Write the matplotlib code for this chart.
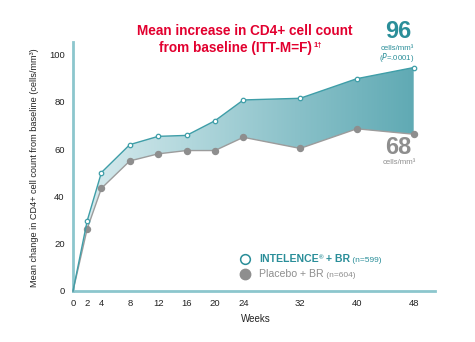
import numpy as np
import matplotlib.pyplot as plt
from matplotlib.colors import LinearSegmentedColormap

plt.rcParams['font.family'] = ['Liberation Sans', 'DejaVu Sans']

# data
weeks = [0, 2, 4, 8, 12, 16, 20, 24, 32, 40, 48]
intelence = [0, 29.7, 50.1, 61.9, 65.4, 65.8, 72.0, 80.8, 81.5, 89.8, 94.5]
placebo = [0, 26.3, 43.4, 55.0, 58.0, 59.4, 59.4, 65.0, 60.3, 68.6, 66.3]
x_ticks = [0, 2, 4, 8, 12, 16, 20, 24, 32, 40, 48]
y_ticks = [0, 20, 40, 60, 80, 100]

TEAL = '#2a8e99'
LINE_TEAL = '#3f9ea8'
GRAY = '#8e8e8e'
RED = '#e2002f'

W, H = 475, 342
fig = plt.figure(figsize=(W / 100, H / 100), dpi=100)
ax = fig.add_axes([73 / W, 1 - 291 / H, (435 - 73) / W, (291 - 42) / H])


def px(x, y):
    return x / W, 1 - y / H


# shaded band between the two series, gradient light -> dark teal
band = ax.fill_between(weeks, placebo, intelence, color='none', lw=0)
cmap = LinearSegmentedColormap.from_list('band', ['#dcedf0', '#b3d8dd', '#88c0c8', '#60aab4'])
grad = np.tile(np.linspace(0, 1, 256), (10, 1))
img = ax.imshow(grad, cmap=cmap, extent=[0, 48, 0, 100], aspect='auto', origin='lower', zorder=1)
img.set_clip_path(band.get_paths()[0], transform=ax.transData)

marks = list(range(1, len(weeks)))
ax.plot(weeks, placebo, color='#9c9c9c', lw=1.0, marker='o', ms=4.3, markevery=marks,
        mfc='#8e8e8e', mec='#8e8e8e', zorder=3, clip_on=False)
ax.plot(weeks, intelence, color=LINE_TEAL, lw=1.0, marker='o', ms=3.2, markevery=marks,
        mfc='white', mec=LINE_TEAL, mew=0.9, zorder=4, clip_on=False)

ax.set_xlim(0, 51)
ax.set_ylim(0, 105.3)
ax.set_xticks(x_ticks)
ax.set_yticks(y_ticks)
ax.tick_params(length=0, labelsize=6.8, colors='#222222', pad=6)
for s in ['top', 'right']:
    ax.spines[s].set_visible(False)
for s in ['left', 'bottom']:
    ax.spines[s].set_color('#8cc6cd')
    ax.spines[s].set_linewidth(2)
ax.set_facecolor('none')

fig.text(*px(35, 168), 'Mean change in CD4+ cell count from baseline (cells/mm\u00b3)',
         rotation=90, ha='center', va='center', fontsize=6.6, color='#222222')
fig.text(*px(256, 319), 'Weeks', ha='center', va='center', fontsize=7, color='#222222')

# title
fig.text(*px(245, 31), 'Mean increase in CD4+ cell count', ha='center', va='center',
         fontsize=9.8, fontweight='bold', color=RED)
t2 = fig.text(*px(235, 48), 'from baseline (ITT-M=F)', ha='center', va='center',
              fontsize=9.8, fontweight='bold', color=RED)
ax.annotate('1\u2020', xy=(1, 0.95), xycoords=t2, xytext=(1.5, 0), textcoords='offset points',
            ha='left', va='top', fontsize=5.5, fontweight='bold', color=RED)

# end-point callouts
fig.text(*px(398, 31), '96', ha='center', va='center', fontsize=17, fontweight='bold', color=TEAL)
fig.text(*px(397, 48), 'cells/mm\u00b3', ha='center', va='center', fontsize=5.6, color=TEAL)
fig.text(*px(397, 57), '($\\it{P}$=.0001)', ha='center', va='center', fontsize=5.6, color=TEAL)
fig.text(*px(398, 147), '68', ha='center', va='center', fontsize=17, fontweight='bold', color=GRAY)
fig.text(*px(399, 163), 'cells/mm\u00b3', ha='center', va='center', fontsize=5.6, color=GRAY)

# legend
fig.lines.append(plt.Line2D([245 / W], [1 - 259 / H], marker='o', ms=7, mfc='white',
                            mec=TEAL, mew=1.1, transform=fig.transFigure))
fig.lines.append(plt.Line2D([245 / W], [1 - 274 / H], marker='o', ms=7.5, mfc=GRAY,
                            mec=GRAY, transform=fig.transFigure))
l1 = fig.text(*px(259, 259), 'INTELENCE', ha='left', va='center', fontsize=7.6,
              fontweight='bold', color=TEAL)
ax.annotate('\u00ae', xy=(1, 0.9), xycoords=l1, ha='left', va='top', fontsize=4.5,
            fontweight='bold', color=TEAL)
b1 = ax.annotate(' + BR', xy=(1, 0), xycoords=l1, xytext=(3.2, 0), textcoords='offset points',
                 ha='left', va='bottom', fontsize=7.6, fontweight='bold', color=TEAL)
ax.annotate(' (n=599)', xy=(1, 0), xycoords=b1, ha='left', va='bottom', fontsize=6, color=TEAL)
l2 = fig.text(*px(259, 274), 'Placebo + BR', ha='left', va='center', fontsize=7.6, color=GRAY)
ax.annotate(' (n=604)', xy=(1, 0), xycoords=l2, ha='left', va='bottom', fontsize=6, color=GRAY)

fig.savefig('out.png', dpi=100)
